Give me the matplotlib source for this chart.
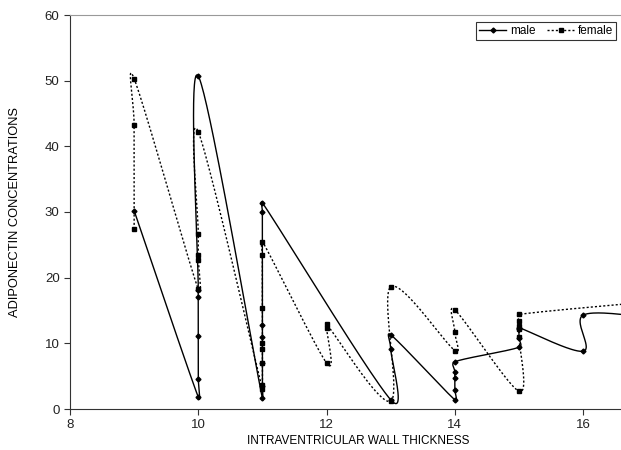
import numpy as np
import matplotlib
matplotlib.use("Agg")
import matplotlib.pyplot as plt
from matplotlib.lines import Line2D

plt.rcParams['font.family'] = ['Liberation Sans', 'DejaVu Sans']

# data (order as plotted)
male_x = [9, 10, 10, 10, 10, 10, 10, 11, 11, 11, 11, 11, 11, 11,
          13, 13, 13, 14, 14, 14, 14, 14, 15, 15, 15, 15, 16, 16, 17]
male_y = [30.2, 1.8, 4.5, 11.1, 17.1, 18.1, 50.7, 1.6, 3.5, 7.0, 10.9, 12.8, 30.0, 31.4,
          1.4, 9.2, 11.3, 1.4, 2.9, 4.7, 5.7, 7.2, 9.4, 10.8, 12.2, 12.4, 8.8, 14.3, 14.0]

female_x = [9, 9, 9, 10, 10, 10, 10, 10, 11, 11, 11, 11, 11, 11, 11, 11,
            12, 12, 12, 13, 13, 14, 14, 14, 15, 15, 15, 15, 15, 15, 17]
female_y = [27.4, 43.2, 50.3, 18.2, 22.7, 23.4, 26.7, 42.2, 3.0, 3.7, 7.0, 9.1, 10.1, 15.4, 23.4, 25.5,
            7.0, 12.3, 12.9, 1.2, 18.6, 8.9, 11.7, 15.1, 2.7, 10.9, 12.2, 12.6, 13.4, 14.4, 16.3]

x_ticks = [8, 10, 12, 14, 16]
y_ticks = [0, 10, 20, 30, 40, 50, 60]


def smooth(ax, xs, ys, n=40):
    # excel-like smoothed line: bezier arms of 1/6, capped at half the segment
    pts = ax.transData.transform(np.column_stack([xs, ys]))
    out = [pts[0]]
    t = np.linspace(0, 1, n)[1:, None]
    for i in range(len(pts) - 1):
        p0 = pts[i - 1] if i > 0 else pts[i]
        p1 = pts[i]
        p2 = pts[i + 1]
        p3 = pts[i + 2] if i + 2 < len(pts) else pts[i + 1]
        d12 = np.hypot(*(p2 - p1))
        d02 = np.hypot(*(p2 - p0))
        d13 = np.hypot(*(p3 - p1))
        f1 = 1 / 6 if d02 / 6 < d12 / 2 or d02 == 0 else d12 / d02 / 2
        f2 = 1 / 6 if d13 / 6 < d12 / 2 or d13 == 0 else d12 / d13 / 2
        c1 = p1 + f1 * (p2 - p0)
        c2 = p2 - f2 * (p3 - p1)
        seg = (1 - t)**3 * p1 + 3 * (1 - t)**2 * t * c1 + 3 * (1 - t) * t**2 * c2 + t**3 * p2
        out.extend(seg)
    return ax.transData.inverted().transform(np.array(out))


fig = plt.figure(figsize=(6.21, 4.5), dpi=100)
ax = fig.add_axes([70 / 621, 1 - 409 / 450, 551 / 621, 394 / 450])
ax.set_xlim(8, 16.59)
ax.set_ylim(0, 60)

dots = (0, (1.5, 1.5))
m = smooth(ax, male_x, male_y)
f = smooth(ax, female_x, female_y)
ax.plot(m[:, 0], m[:, 1], color='black', lw=1.0)
ax.plot(f[:, 0], f[:, 1], color='black', lw=1.0, linestyle=dots)
ax.plot(male_x, male_y, 'D', color='black', ms=2.5, linestyle='none')
ax.plot(female_x, female_y, 's', color='black', ms=3.5, linestyle='none')

ax.set_xticks(x_ticks)
ax.set_yticks(y_ticks)
ax.tick_params(direction='out', length=4, width=0.8, colors='#333333', labelsize=9.5)
for lab in ax.get_xticklabels() + ax.get_yticklabels():
    lab.set_color('#222222')

ax.spines['right'].set_visible(False)
ax.spines['top'].set_color('#999999')
ax.spines['left'].set_color('#333333')
ax.spines['bottom'].set_color('#333333')

ax.set_xlabel('INTRAVENTRICULAR WALL THICKNESS', fontsize=8.5)
ax.xaxis.set_label_coords(0.523, -0.065)
ax.set_ylabel('ADIPONECTIN CONCENTRATIONS', fontsize=9.3)
ax.yaxis.set_label_coords(-0.089, 0.5)

handles = [Line2D([], [], color='black', lw=1.0, marker='D', ms=2.5),
           Line2D([], [], color='black', lw=1.0, linestyle=dots, marker='s', ms=3.5)]
leg = ax.legend(handles, ['male', 'female'], ncol=2, loc='upper right',
                bbox_to_anchor=(0.991, 0.982), borderaxespad=0, fontsize=8.5,
                fancybox=False, frameon=True, handlelength=2.3, columnspacing=1.0,
                handletextpad=0.3, borderpad=0.25)
leg.get_frame().set_edgecolor('black')
leg.get_frame().set_linewidth(0.8)

fig.savefig('out.png', dpi=100)
